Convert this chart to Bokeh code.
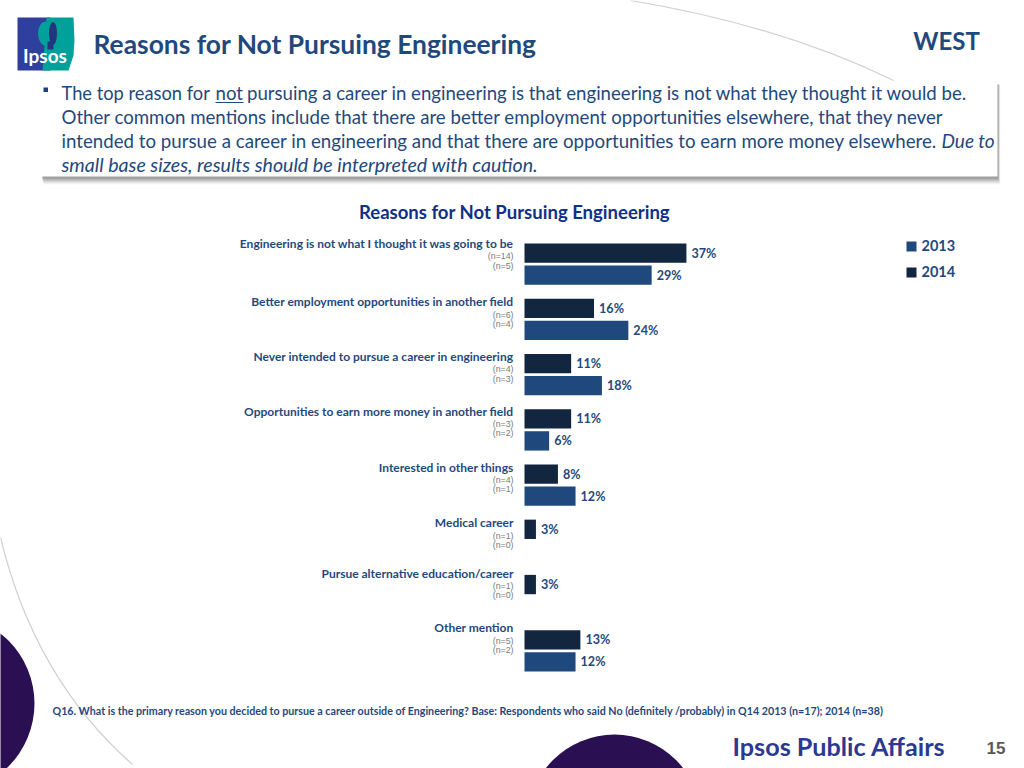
from bokeh.plotting import figure
from bokeh.models import Range1d, ColumnDataSource
from bokeh.core.properties import value
from bokeh.embed import file_html
from bokeh.resources import INLINE

# ---------- data ----------
categories = ["Engineering is not what I thought it was going to be",
              "Better employment opportunities in another field",
              "Never intended to pursue a career in engineering",
              "Opportunities to earn more money in another field",
              "Interested in other things", "Medical career",
              "Pursue alternative education/career", "Other mention"]
values_2014 = [36.8, 15.8, 10.6, 10.6, 7.6, 2.6, 2.6, 12.7]
values_2013 = [28.9, 23.6, 17.6, 5.6, 11.6, None, None, 11.6]
labels_2014 = ["37%", "16%", "11%", "11%", "8%", "3%", "3%", "13%"]
labels_2013 = ["29%", "24%", "18%", "6%", "12%", None, None, "12%"]
base_2014 = ["(n=14)", "(n=6)", "(n=4)", "(n=3)", "(n=4)", "(n=1)", "(n=1)", "(n=5)"]
base_2013 = ["(n=5)", "(n=4)", "(n=3)", "(n=2)", "(n=1)", "(n=0)", "(n=0)", "(n=2)"]

# ---------- layout ----------
W, H = 1024, 768
PX_PER_PCT = 4.4
BAR_X0 = 524
ROW0, ROW_STEP = 263.6, 55.25
label_y = [243, 301, 356, 411, 467, 522, 573, 627]
n1_y = [255, 314, 368, 423, 479, 535, 585, 640]
n2_y = [265, 323, 378, 432, 488, 544, 594, 649]

C_2013, C_2014 = "#1F497D", "#12263F"
TXT = "#1F497D"
PURPLE = "#2A1052"
SANS = "Lato"

p = figure(width=W, height=H, output_backend="svg", toolbar_location=None, min_border=0,
           x_range=Range1d((0 - BAR_X0) / PX_PER_PCT, (W - BAR_X0) / PX_PER_PCT),
           y_range=Range1d((H - ROW0) / ROW_STEP, (0 - ROW0) / ROW_STEP),
           outline_line_color=None, background_fill_color="white")
p.axis.visible = False
p.grid.visible = False
p.extra_x_ranges["px"] = Range1d(0, W)
p.extra_y_ranges["px"] = Range1d(H, 0)
PX = dict(x_range_name="px", y_range_name="px")


def txt(x, y, s, size, color=TXT, style="normal", align="left", font=SANS, baseline="middle"):
    p.text([x], [y], text=[s], text_font=value(font), text_font_size=f"{size}px", text_color=color,
           text_font_style=style, text_align=align, text_baseline=baseline, **PX)


# ---------- background decoration ----------
p.ellipse([-55], [703], width=178, height=178, fill_color=PURPLE, line_color=None, **PX)
p.ellipse([614], [821], width=174, height=174, fill_color=PURPLE, line_color=None, **PX)
p.quadratic([630], [0], [893], [80], [780], [25], line_color="#D0D0D0", line_width=1.2, **PX)
p.quadratic([0], [537], [132], [764], [34], [678], line_color="#D0D0D0", line_width=1.2, **PX)

# logo
p.quad(left=[17], right=[50], top=[17], bottom=[70], fill_color="#2E3F9E", line_color=None, **PX)
p.patch([46, 73, 74, 73, 68, 42, 44], [17, 17, 40, 55, 70, 70, 45],
        fill_color="#00A19A", line_color=None, **PX)
p.ellipse([45], [33], width=15, height=24, fill_color="#00A19A", line_color=None, **PX)
p.ellipse([52.5], [33], width=8, height=23, fill_color="#23357F", line_color=None, **PX)
p.quad(left=[47], right=[53], top=[41], bottom=[49], fill_color="#23357F", line_color=None, **PX)
txt(44.5, 55, "Ipsos", 19, color="white", style="bold", align="center")

# titles
txt(93, 43, "Reasons for Not Pursuing Engineering", 26.4, style="bold")
txt(946, 40, "WEST", 24, style="bold", align="center")

# callout box with soft shadow
for off, a in [(8, 0.05), (7, 0.08), (6, 0.10), (5, 0.13), (4, 0.16), (3, 0.18), (2, 0.18)]:
    p.quad(left=[41 + off / 4], right=[997 + off / 3], top=[84], bottom=[176 + off],
           fill_color="#666666", fill_alpha=a, line_color=None, **PX)
p.quad(left=[41], right=[997], top=[81], bottom=[176], fill_color="white", line_color=None, **PX)
p.quad(left=[43], right=[47.5], top=[87], bottom=[91.5], fill_color="#1F3F7D", line_color=None, **PX)

BODY = 18.65
txt(61, 92.5, "The top reason for", 18.3, )
txt(215, 92.5, "not", BODY)
p.segment([215], [102], [243], [102], line_color=TXT, line_width=1.2, **PX)
txt(246.5, 92.5, "pursuing a career in engineering is that engineering is not what they thought it would be.", 18.6)
txt(61, 116.5, "Other common mentions include that there are better employment opportunities elsewhere, that they never", BODY)
txt(61, 140, "intended to pursue a career in engineering and that there are opportunities to earn more money elsewhere.", 18.7)
txt(941, 140, "Due to", 19, style="italic")
txt(61, 164, "small base sizes, results should be interpreted with caution.", 19.6, style="italic")

# chart title
txt(514, 211, "Reasons for Not Pursuing Engineering", 18.55, color="#0F3088", style="bold", align="center")

# ---------- bars ----------
rows = list(range(len(categories)))
src14 = ColumnDataSource(dict(y=[i - 0.2 for i in rows], v=values_2014, t=labels_2014))
rows13 = [i for i in rows if values_2013[i] is not None]
src13 = ColumnDataSource(dict(y=[i + 0.2 for i in rows13], v=[values_2013[i] for i in rows13],
                              t=[labels_2013[i] for i in rows13]))
for src, col in ((src14, C_2014), (src13, C_2013)):
    p.hbar(y="y", left=0, right="v", height=0.35, source=src, fill_color=col, line_color=None)
    p.text(x="v", y="y", text="t", source=src, x_offset=5, text_font=value(SANS), text_font_size="12.6px",
           text_font_style="bold", text_color=TXT, text_baseline="middle")

# category labels
for i, c in enumerate(categories):
    txt(513, label_y[i], c, 12, style="bold", align="right")
    txt(513, n1_y[i], base_2014[i], 8.8, color="#7A7A7A", align="right", font="Liberation Sans")
    txt(513, n2_y[i], base_2013[i], 8.8, color="#7A7A7A", align="right", font="Liberation Sans")

# legend
p.quad(left=[906], right=[916], top=[241], bottom=[251], fill_color=C_2013, line_color=None, **PX)
p.quad(left=[906], right=[916], top=[267], bottom=[277], fill_color=C_2014, line_color=None, **PX)
txt(921, 245, "2013", 14.5, style="bold")
txt(921, 271, "2014", 14.5, style="bold")

# footer
txt(52, 710, "Q16. What is the primary reason you decided to pursue a career outside of Engineering? Base: "
    "Respondents who said No (definitely /probably) in Q14  2013 (n=17); 2014 (n=38)", 10.7, style="bold")
txt(732, 745, "Ipsos Public Affairs", 25.2, color="#2B3990", style="bold")
txt(1005, 747, "15", 17, color="#595959", style="bold", align="right", font="Liberation Sans")

open("out.html", "w").write(file_html(p, INLINE))
